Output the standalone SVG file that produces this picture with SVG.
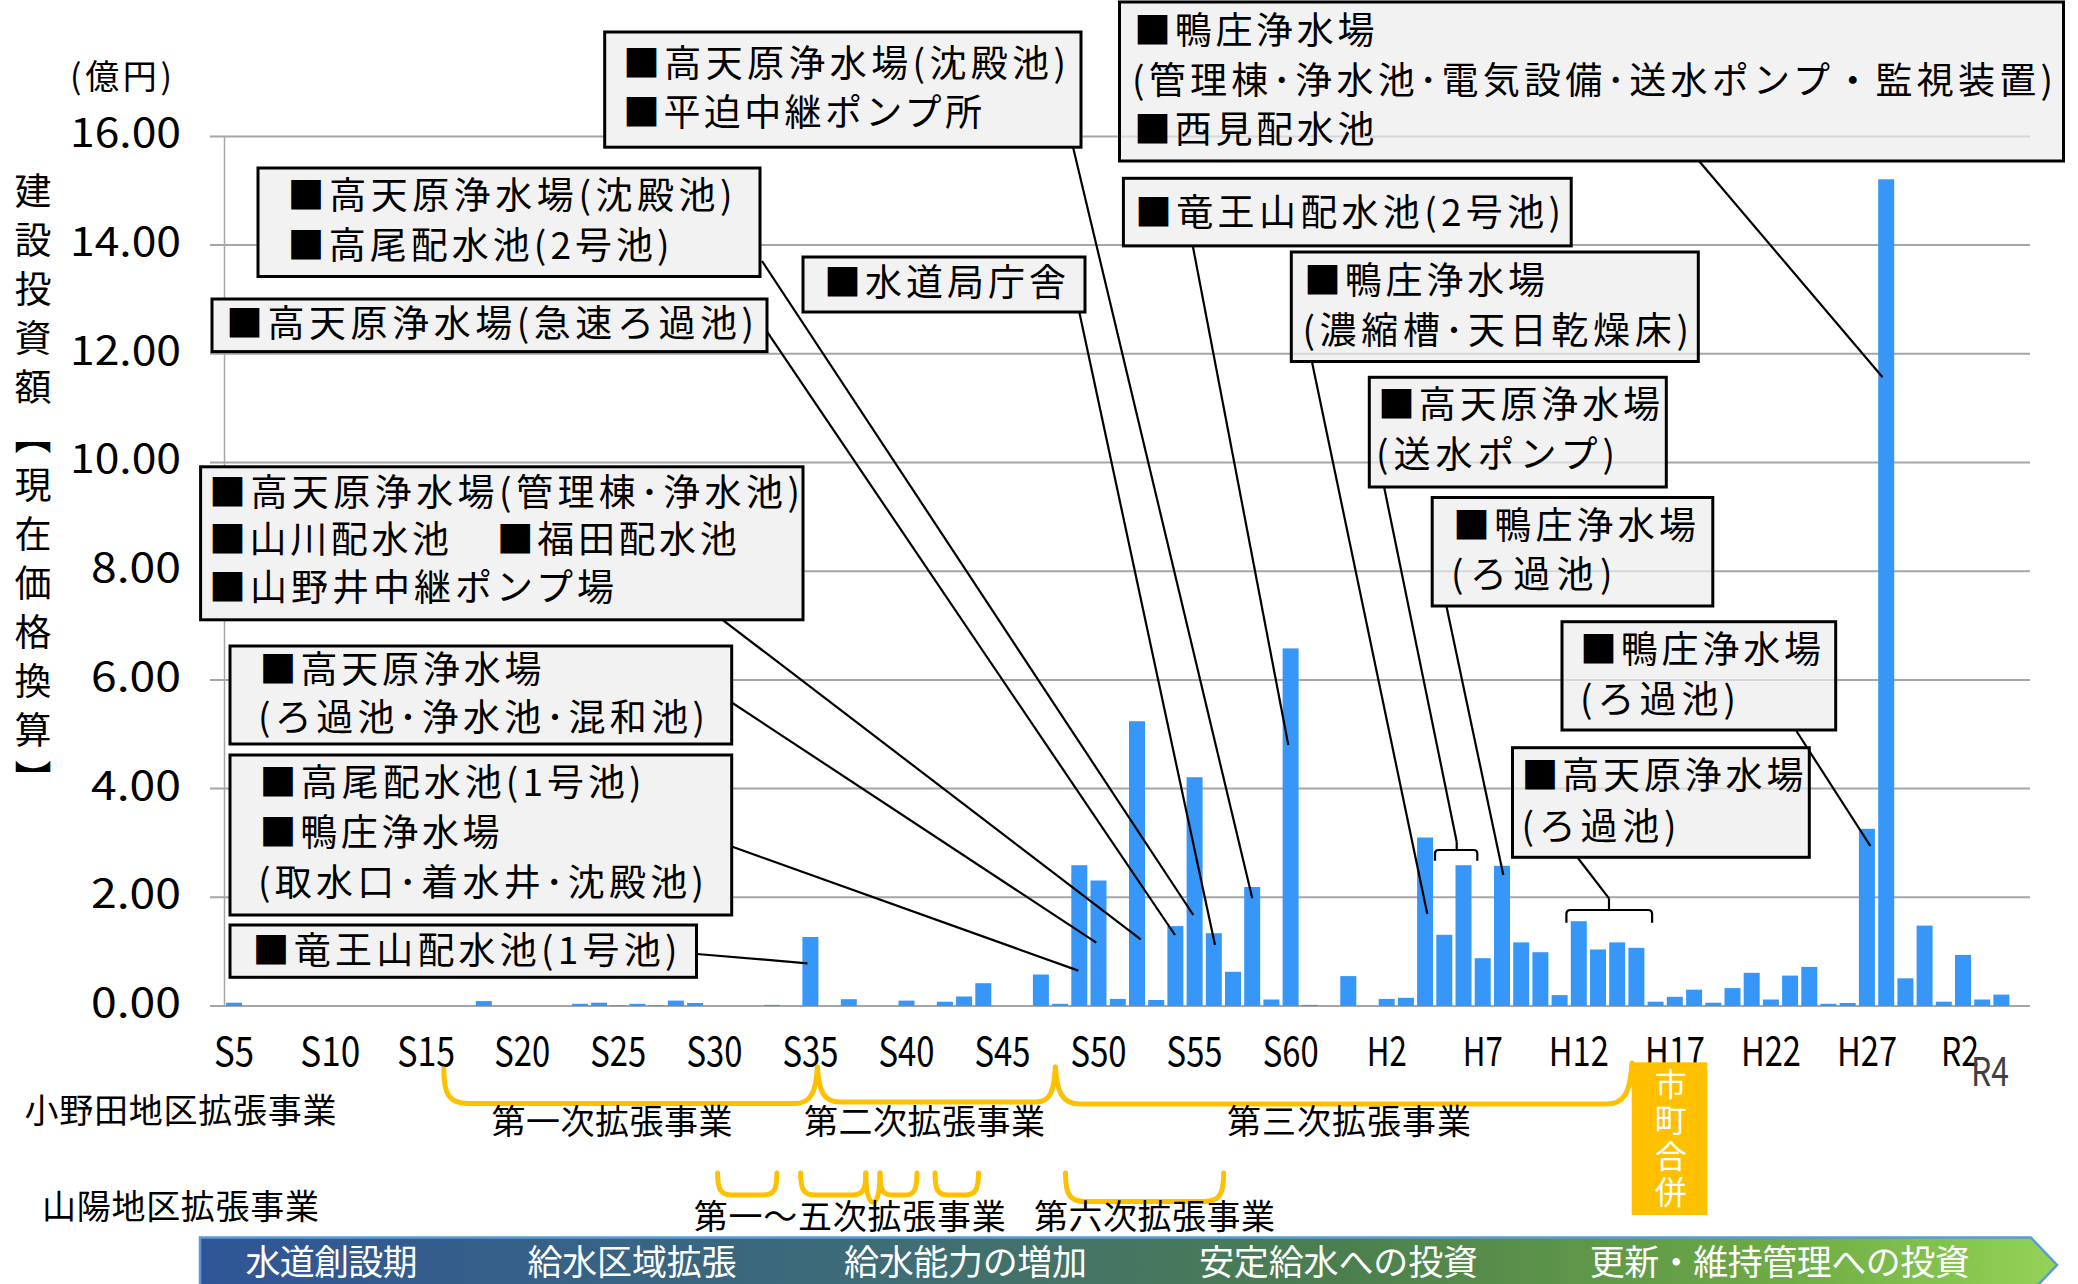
<svg xmlns="http://www.w3.org/2000/svg" width="2078" height="1284" viewBox="0 0 2078 1284">
<defs>
<style>
.t{font-family:"Noto Sans CJK JP","Noto Sans CJK SC",sans-serif;font-size:37px;fill:#000}
.m{font-family:"Noto Sans CJK JP",sans-serif;font-size:34px;fill:#000}
.ax{font-family:"Noto Sans CJK JP",sans-serif;font-size:40px;fill:#000}
.w{font-family:"Noto Sans CJK JP",sans-serif;font-size:35px;fill:#fff}
.box{fill:#f2f2f2;stroke:#000;stroke-width:3}
.boxt{fill:#ececec;fill-opacity:.7;stroke:#000;stroke-width:3}
.conn{stroke:#000;stroke-width:2.2;fill:none}
.grid{stroke:#a6a6a6;stroke-width:2}
.bar{fill:#3797F8}
.brace{stroke:#FFC000;stroke-width:5;fill:none;stroke-linecap:round}
</style>
<linearGradient id="band" x1="0" y1="0" x2="1" y2="0">
<stop offset="0" stop-color="#2F5597"/>
<stop offset="0.35" stop-color="#3E6B78"/>
<stop offset="0.62" stop-color="#4C7F4E"/>
<stop offset="0.85" stop-color="#6EAA45"/>
<stop offset="1" stop-color="#94D356"/>
</linearGradient>
</defs>
<rect width="2078" height="1284" fill="#fff"/>

<g id="grid">
<line class="grid" x1="210" y1="1006" x2="2030" y2="1006"/>
<line class="grid" x1="210" y1="897.3" x2="2030" y2="897.3"/>
<line class="grid" x1="210" y1="788.6" x2="2030" y2="788.6"/>
<line class="grid" x1="210" y1="679.9" x2="2030" y2="679.9"/>
<line class="grid" x1="210" y1="571.2" x2="2030" y2="571.2"/>
<line class="grid" x1="210" y1="462.5" x2="2030" y2="462.5"/>
<line class="grid" x1="210" y1="353.8" x2="2030" y2="353.8"/>
<line class="grid" x1="210" y1="245.1" x2="2030" y2="245.1"/>
<line class="grid" x1="210" y1="136.4" x2="2030" y2="136.4"/>
<line x1="224.5" y1="136.4" x2="224.5" y2="1006" stroke="#a6a6a6" stroke-width="1.5"/>
</g>

<g id="yaxis">
<text class="ax" x="181" y="147" text-anchor="end" textLength="111" lengthAdjust="spacingAndGlyphs">16.00</text>
<text class="ax" x="181" y="256" text-anchor="end" textLength="111" lengthAdjust="spacingAndGlyphs">14.00</text>
<text class="ax" x="181" y="365" text-anchor="end" textLength="111" lengthAdjust="spacingAndGlyphs">12.00</text>
<text class="ax" x="181" y="473" text-anchor="end" textLength="111" lengthAdjust="spacingAndGlyphs">10.00</text>
<text class="ax" x="181" y="582" text-anchor="end" textLength="90" lengthAdjust="spacingAndGlyphs">8.00</text>
<text class="ax" x="181" y="691" text-anchor="end" textLength="90" lengthAdjust="spacingAndGlyphs">6.00</text>
<text class="ax" x="181" y="800" text-anchor="end" textLength="90" lengthAdjust="spacingAndGlyphs">4.00</text>
<text class="ax" x="181" y="908" text-anchor="end" textLength="90" lengthAdjust="spacingAndGlyphs">2.00</text>
<text class="ax" x="181" y="1017" text-anchor="end" textLength="90" lengthAdjust="spacingAndGlyphs">0.00</text>
<text class="m" x="70" y="89" font-size="30" textLength="102">(億円)</text>
<text class="t" x="33" y="172" style="writing-mode:vertical-rl" font-size="36" letter-spacing="12">建設投資額【現在価格換算】</text>
</g>

<g id="bars">
<rect class="bar" x="226.1" y="1002.7" width="16" height="3.3"/>
<rect class="bar" x="475.8" y="1001.1" width="16" height="4.9"/>
<rect class="bar" x="571.9" y="1003.8" width="16" height="2.2"/>
<rect class="bar" x="591.1" y="1002.7" width="16" height="3.3"/>
<rect class="bar" x="610.3" y="1005.2" width="16" height="0.8"/>
<rect class="bar" x="629.5" y="1003.8" width="16" height="2.2"/>
<rect class="bar" x="648.7" y="1005.2" width="16" height="0.8"/>
<rect class="bar" x="667.9" y="1000.6" width="16" height="5.4"/>
<rect class="bar" x="687.1" y="1003" width="16" height="3"/>
<rect class="bar" x="764" y="1004.9" width="16" height="1.1"/>
<rect class="bar" x="802.4" y="937" width="16" height="69"/>
<rect class="bar" x="840.8" y="999.2" width="16" height="6.8"/>
<rect class="bar" x="898.5" y="1000.6" width="16" height="5.4"/>
<rect class="bar" x="936.9" y="1001.7" width="16" height="4.3"/>
<rect class="bar" x="956.1" y="996.5" width="16" height="9.5"/>
<rect class="bar" x="975.3" y="983.2" width="16" height="22.8"/>
<rect class="bar" x="1032.9" y="974.5" width="16" height="31.5"/>
<rect class="bar" x="1052.1" y="1003.8" width="16" height="2.2"/>
<rect class="bar" x="1071.3" y="865.2" width="16" height="140.8"/>
<rect class="bar" x="1090.5" y="880.5" width="16" height="125.5"/>
<rect class="bar" x="1109.8" y="998.9" width="16" height="7.1"/>
<rect class="bar" x="1129" y="721.2" width="16" height="284.8"/>
<rect class="bar" x="1148.2" y="1000" width="16" height="6"/>
<rect class="bar" x="1167.4" y="926.1" width="16" height="79.9"/>
<rect class="bar" x="1186.6" y="777.2" width="16" height="228.8"/>
<rect class="bar" x="1205.8" y="933.2" width="16" height="72.8"/>
<rect class="bar" x="1225" y="971.8" width="16" height="34.2"/>
<rect class="bar" x="1244.2" y="887" width="16" height="119"/>
<rect class="bar" x="1263.4" y="999.5" width="16" height="6.5"/>
<rect class="bar" x="1282.6" y="648.4" width="16" height="357.6"/>
<rect class="bar" x="1301.9" y="1004.9" width="16" height="1.1"/>
<rect class="bar" x="1340.3" y="976.1" width="16" height="29.9"/>
<rect class="bar" x="1378.7" y="998.9" width="16" height="7.1"/>
<rect class="bar" x="1397.9" y="997.8" width="16" height="8.2"/>
<rect class="bar" x="1417.1" y="837.5" width="16" height="168.5"/>
<rect class="bar" x="1436.3" y="934.8" width="16" height="71.2"/>
<rect class="bar" x="1455.5" y="865.2" width="16" height="140.8"/>
<rect class="bar" x="1474.7" y="958.2" width="16" height="47.8"/>
<rect class="bar" x="1494" y="865.8" width="16" height="140.2"/>
<rect class="bar" x="1513.2" y="942.4" width="16" height="63.6"/>
<rect class="bar" x="1532.4" y="952.2" width="16" height="53.8"/>
<rect class="bar" x="1551.6" y="995.1" width="16" height="10.9"/>
<rect class="bar" x="1570.8" y="921.2" width="16" height="84.8"/>
<rect class="bar" x="1590" y="949.5" width="16" height="56.5"/>
<rect class="bar" x="1609.2" y="942.4" width="16" height="63.6"/>
<rect class="bar" x="1628.4" y="947.8" width="16" height="58.2"/>
<rect class="bar" x="1647.6" y="1001.7" width="16" height="4.3"/>
<rect class="bar" x="1666.8" y="996.8" width="16" height="9.2"/>
<rect class="bar" x="1686.1" y="989.7" width="16" height="16.3"/>
<rect class="bar" x="1705.3" y="1002.7" width="16" height="3.3"/>
<rect class="bar" x="1724.5" y="988.1" width="16" height="17.9"/>
<rect class="bar" x="1743.7" y="972.8" width="16" height="33.2"/>
<rect class="bar" x="1762.9" y="999.5" width="16" height="6.5"/>
<rect class="bar" x="1782.1" y="975.6" width="16" height="30.4"/>
<rect class="bar" x="1801.3" y="966.9" width="16" height="39.1"/>
<rect class="bar" x="1820.5" y="1003.8" width="16" height="2.2"/>
<rect class="bar" x="1839.7" y="1003" width="16" height="3"/>
<rect class="bar" x="1858.9" y="828.8" width="16" height="177.2"/>
<rect class="bar" x="1878.2" y="179.3" width="16" height="826.7"/>
<rect class="bar" x="1897.4" y="978.3" width="16" height="27.7"/>
<rect class="bar" x="1916.6" y="925.6" width="16" height="80.4"/>
<rect class="bar" x="1935.8" y="1001.7" width="16" height="4.3"/>
<rect class="bar" x="1955" y="954.9" width="16" height="51.1"/>
<rect class="bar" x="1974.2" y="999.5" width="16" height="6.5"/>
<rect class="bar" x="1993.4" y="994.6" width="16" height="11.4"/>
</g>

<g id="xaxis">
<text class="ax" x="234.1" y="1066" text-anchor="middle" textLength="40" lengthAdjust="spacingAndGlyphs">S5</text>
<text class="ax" x="330.2" y="1066" text-anchor="middle" textLength="60" lengthAdjust="spacingAndGlyphs">S10</text>
<text class="ax" x="426.2" y="1066" text-anchor="middle" textLength="58" lengthAdjust="spacingAndGlyphs">S15</text>
<text class="ax" x="522.3" y="1066" text-anchor="middle" textLength="56" lengthAdjust="spacingAndGlyphs">S20</text>
<text class="ax" x="618.3" y="1066" text-anchor="middle" textLength="56" lengthAdjust="spacingAndGlyphs">S25</text>
<text class="ax" x="714.4" y="1066" text-anchor="middle" textLength="56" lengthAdjust="spacingAndGlyphs">S30</text>
<text class="ax" x="810.4" y="1066" text-anchor="middle" textLength="56" lengthAdjust="spacingAndGlyphs">S35</text>
<text class="ax" x="906.5" y="1066" text-anchor="middle" textLength="56" lengthAdjust="spacingAndGlyphs">S40</text>
<text class="ax" x="1002.5" y="1066" text-anchor="middle" textLength="56" lengthAdjust="spacingAndGlyphs">S45</text>
<text class="ax" x="1098.6" y="1066" text-anchor="middle" textLength="56" lengthAdjust="spacingAndGlyphs">S50</text>
<text class="ax" x="1194.6" y="1066" text-anchor="middle" textLength="56" lengthAdjust="spacingAndGlyphs">S55</text>
<text class="ax" x="1290.7" y="1066" text-anchor="middle" textLength="56" lengthAdjust="spacingAndGlyphs">S60</text>
<text class="ax" x="1386.7" y="1066" text-anchor="middle" textLength="40" lengthAdjust="spacingAndGlyphs">H2</text>
<text class="ax" x="1482.8" y="1066" text-anchor="middle" textLength="40" lengthAdjust="spacingAndGlyphs">H7</text>
<text class="ax" x="1578.8" y="1066" text-anchor="middle" textLength="60" lengthAdjust="spacingAndGlyphs">H12</text>
<text class="ax" x="1674.9" y="1066" text-anchor="middle" textLength="60" lengthAdjust="spacingAndGlyphs">H17</text>
<text class="ax" x="1770.9" y="1066" text-anchor="middle" textLength="60" lengthAdjust="spacingAndGlyphs">H22</text>
<text class="ax" x="1867" y="1066" text-anchor="middle" textLength="60" lengthAdjust="spacingAndGlyphs">H27</text>
<text class="ax" x="1960" y="1066" text-anchor="middle" textLength="38" lengthAdjust="spacingAndGlyphs">R2</text>
<text class="ax" x="1990" y="1086" text-anchor="middle" font-size="36" style="fill:#404040" textLength="38" lengthAdjust="spacingAndGlyphs">R4</text>
</g>

<g id="connectors">
<line class="conn" x1="697" y1="954" x2="807.4" y2="963.3"/>
<line class="conn" x1="731.7" y1="846.5" x2="1078.3" y2="970.6"/>
<line class="conn" x1="731.7" y1="702.5" x2="1096.3" y2="942.7"/>
<line class="conn" x1="722.5" y1="619.8" x2="1140.7" y2="939.3"/>
<line class="conn" x1="767" y1="331.7" x2="1175" y2="935"/>
<line class="conn" x1="762" y1="261" x2="1193.3" y2="915"/>
<line class="conn" x1="1073" y1="147" x2="1252.3" y2="898.3"/>
<line class="conn" x1="1079.5" y1="313" x2="1215" y2="945"/>
<line class="conn" x1="1193" y1="247" x2="1288.3" y2="745"/>
<line class="conn" x1="1699" y1="161" x2="1882.6" y2="377.3"/>
<line class="conn" x1="1312" y1="362" x2="1427.3" y2="914"/>
<line class="conn" x1="1384.3" y1="488" x2="1456.7" y2="841.7"/>
<path class="conn" d="M1435,860.7 L1435,853.5 Q1435,850 1438.5,850 L1473.8,850 Q1477.3,850 1477.3,853.5 L1477.3,860.7 M1456.7,841.7 L1456.7,850"/>
<line class="conn" x1="1446.6" y1="607" x2="1503.3" y2="875"/>
<line class="conn" x1="1796.4" y1="731" x2="1870.4" y2="846"/>
<line class="conn" x1="1577.9" y1="858" x2="1609" y2="898.3"/>
<path class="conn" d="M1566.4,922.7 L1566.4,914 Q1566.4,910 1570.4,910 L1648.1,910 Q1652.1,910 1652.1,914 L1652.1,922.7 M1609,898.3 L1609,910"/>
</g>

<g id="box-A">
<rect class="box" x="604.7" y="32" width="476.3" height="115.2"/>
<text class="t" x="623" y="77" textLength="443">■高天原浄水場(沈殿池)</text>
<text class="t" x="623" y="126" textLength="359">■平迫中継ポンプ所</text>
</g>
<g id="box-B">
<rect class="box" x="258" y="168" width="502" height="108.5"/>
<text class="t" x="287.6" y="209" textLength="445">■高天原浄水場(沈殿池)</text>
<text class="t" x="287.6" y="259" textLength="382">■高尾配水池(2号池)</text>
</g>
<g id="box-C">
<rect class="box" x="803" y="257" width="282" height="55"/>
<text class="t" x="824" y="296" textLength="242">■水道局庁舎</text>
</g>
<g id="box-D">
<rect class="box" x="212" y="299" width="555" height="52.6"/>
<text class="t" x="226" y="337" textLength="528">■高天原浄水場(急速ろ過池)</text>
</g>
<g id="box-E">
<rect class="box" x="200.6" y="466.8" width="602.4" height="153"/>
<text class="t" x="209" y="506" textLength="591">■高天原浄水場(管理棟･浄水池)</text>
<text class="t" x="209" y="553" textLength="240">■山川配水池</text>
<text class="t" x="496.7" y="553" textLength="240">■福田配水池</text>
<text class="t" x="209" y="601" textLength="405">■山野井中継ポンプ場</text>
</g>
<g id="box-F">
<rect class="box" x="230" y="646" width="501.7" height="98"/>
<text class="t" x="259.6" y="683" textLength="282">■高天原浄水場</text>
<text class="t" x="258" y="731" textLength="447">(ろ過池･浄水池･混和池)</text>
</g>
<g id="box-G">
<rect class="box" x="230" y="755" width="501.7" height="160"/>
<text class="t" x="259.6" y="796" textLength="382">■高尾配水池(1号池)</text>
<text class="t" x="259.6" y="846" textLength="240">■鴨庄浄水場</text>
<text class="t" x="258" y="896" textLength="446">(取水口･着水井･沈殿池)</text>
</g>
<g id="box-H">
<rect class="box" x="230" y="925" width="466.5" height="52.3"/>
<text class="t" x="252.5" y="964" textLength="425">■竜王山配水池(1号池)</text>
</g>
<g id="box-I">
<rect class="boxt" x="1119.5" y="2" width="944" height="159"/>
<text class="t" x="1134" y="43.5" textLength="240.5">■鴨庄浄水場</text>
<text class="t" x="1132" y="94" textLength="921">(管理棟･浄水池･電気設備･送水ポンプ・監視装置)</text>
<text class="t" x="1134" y="143" textLength="240.5">■西見配水池</text>
</g>
<g id="box-J">
<rect class="boxt" x="1123.4" y="178.3" width="447.8" height="67.6"/>
<text class="t" x="1135" y="226" textLength="426">■竜王山配水池(2号池)</text>
</g>
<g id="box-K">
<rect class="boxt" x="1291.3" y="252" width="407" height="109.5"/>
<text class="t" x="1304" y="294" textLength="241">■鴨庄浄水場</text>
<text class="t" x="1302.4" y="344" textLength="386.6">(濃縮槽･天日乾燥床)</text>
</g>
<g id="box-L">
<rect class="boxt" x="1369.3" y="377.3" width="297" height="109.7"/>
<text class="t" x="1378" y="418" textLength="282">■高天原浄水場</text>
<text class="t" x="1376" y="468" textLength="239">(送水ポンプ)</text>
</g>
<g id="box-M">
<rect class="boxt" x="1432.2" y="497.5" width="280.6" height="108.5"/>
<text class="t" x="1453" y="539" textLength="243">■鴨庄浄水場</text>
<text class="t" x="1451" y="588" textLength="161.5">(ろ過池)</text>
</g>
<g id="box-N">
<rect class="boxt" x="1562" y="621.7" width="273.7" height="108.3"/>
<text class="t" x="1580" y="663" textLength="241">■鴨庄浄水場</text>
<text class="t" x="1580" y="713" textLength="156">(ろ過池)</text>
</g>
<g id="box-O">
<rect class="boxt" x="1512.5" y="747.7" width="296.8" height="109.6"/>
<text class="t" x="1521.4" y="789" textLength="282">■高天原浄水場</text>
<text class="t" x="1521.4" y="840" textLength="155">(ろ過池)</text>
</g>

<g id="projects">
<text class="m" x="24.5" y="1123" textLength="312">小野田地区拡張事業</text>
<text class="m" x="42" y="1219" textLength="277">山陽地区拡張事業</text>
<path class="brace" d="M443.8,1069 C443.8,1094 449,1103.5 468,1103.5 L795,1103.5 C811,1103.5 816,1092 817.4,1067"/>
<path class="brace" d="M817.4,1067 C819,1092 824,1102 840,1102 L1036,1102 C1050,1102 1054,1092 1055.4,1067"/>
<path class="brace" d="M1055.4,1067 C1057,1092 1062,1104 1080,1104 L1606,1104 C1624,1104 1630,1094 1632,1063"/>
<text class="m" x="491.5" y="1134" textLength="241">第一次拡張事業</text>
<text class="m" x="804" y="1134" textLength="241">第二次拡張事業</text>
<text class="m" x="1227" y="1134" textLength="244">第三次拡張事業</text>
<path class="brace" d="M717.6,1173 C717.6,1190 721,1195 732,1195 L763,1195 C774,1195 776.9,1190 776.9,1173"/>
<path class="brace" d="M800.6,1173 C800.6,1190 804,1195 815,1195 L852,1195 C863,1195 865.8,1190 865.8,1173"/>
<path class="brace" d="M865.8,1173 C866,1195 869,1202 873,1202 C877,1202 880,1195 880,1173"/>
<path class="brace" d="M880,1173 C880,1190 883,1195 892,1195 L905,1195 C914,1195 917,1190 917,1173"/>
<path class="brace" d="M935,1173 C935,1190 938,1195 948,1195 L965,1195 C975,1195 978.5,1190 978.5,1173"/>
<path class="brace" d="M1065.5,1173 C1065.5,1195 1070,1201.5 1085,1201.5 L1204,1201.5 C1219,1201.5 1223.7,1195 1223.7,1173"/>
<text class="m" x="693.8" y="1229" textLength="312">第一～五次拡張事業</text>
<text class="m" x="1034" y="1229" textLength="241">第六次拡張事業</text>
</g>

<g id="merger">
<rect x="1631.7" y="1062.3" width="75.6" height="152.7" fill="#FFC000"/>
<text x="1670.7" y="1068" style="writing-mode:vertical-rl;font-family:'Noto Sans CJK JP',sans-serif" font-size="32" letter-spacing="4" fill="#fff">市町合併</text>
</g>

<g id="phase-band">
<polygon points="200,1237.5 2030.8,1237.5 2057,1265 2030.8,1292.5 200,1292.5" fill="url(#band)" stroke="#5B9BD5" stroke-width="2.5"/>
<text class="w" x="245.5" y="1275" textLength="172">水道創設期</text>
<text class="w" x="527.5" y="1275" textLength="209">給水区域拡張</text>
<text class="w" x="844" y="1275" textLength="243">給水能力の増加</text>
<text class="w" x="1199" y="1275" textLength="279">安定給水への投資</text>
<text class="w" x="1589.7" y="1275" textLength="380">更新・維持管理への投資</text>
</g>
</svg>
